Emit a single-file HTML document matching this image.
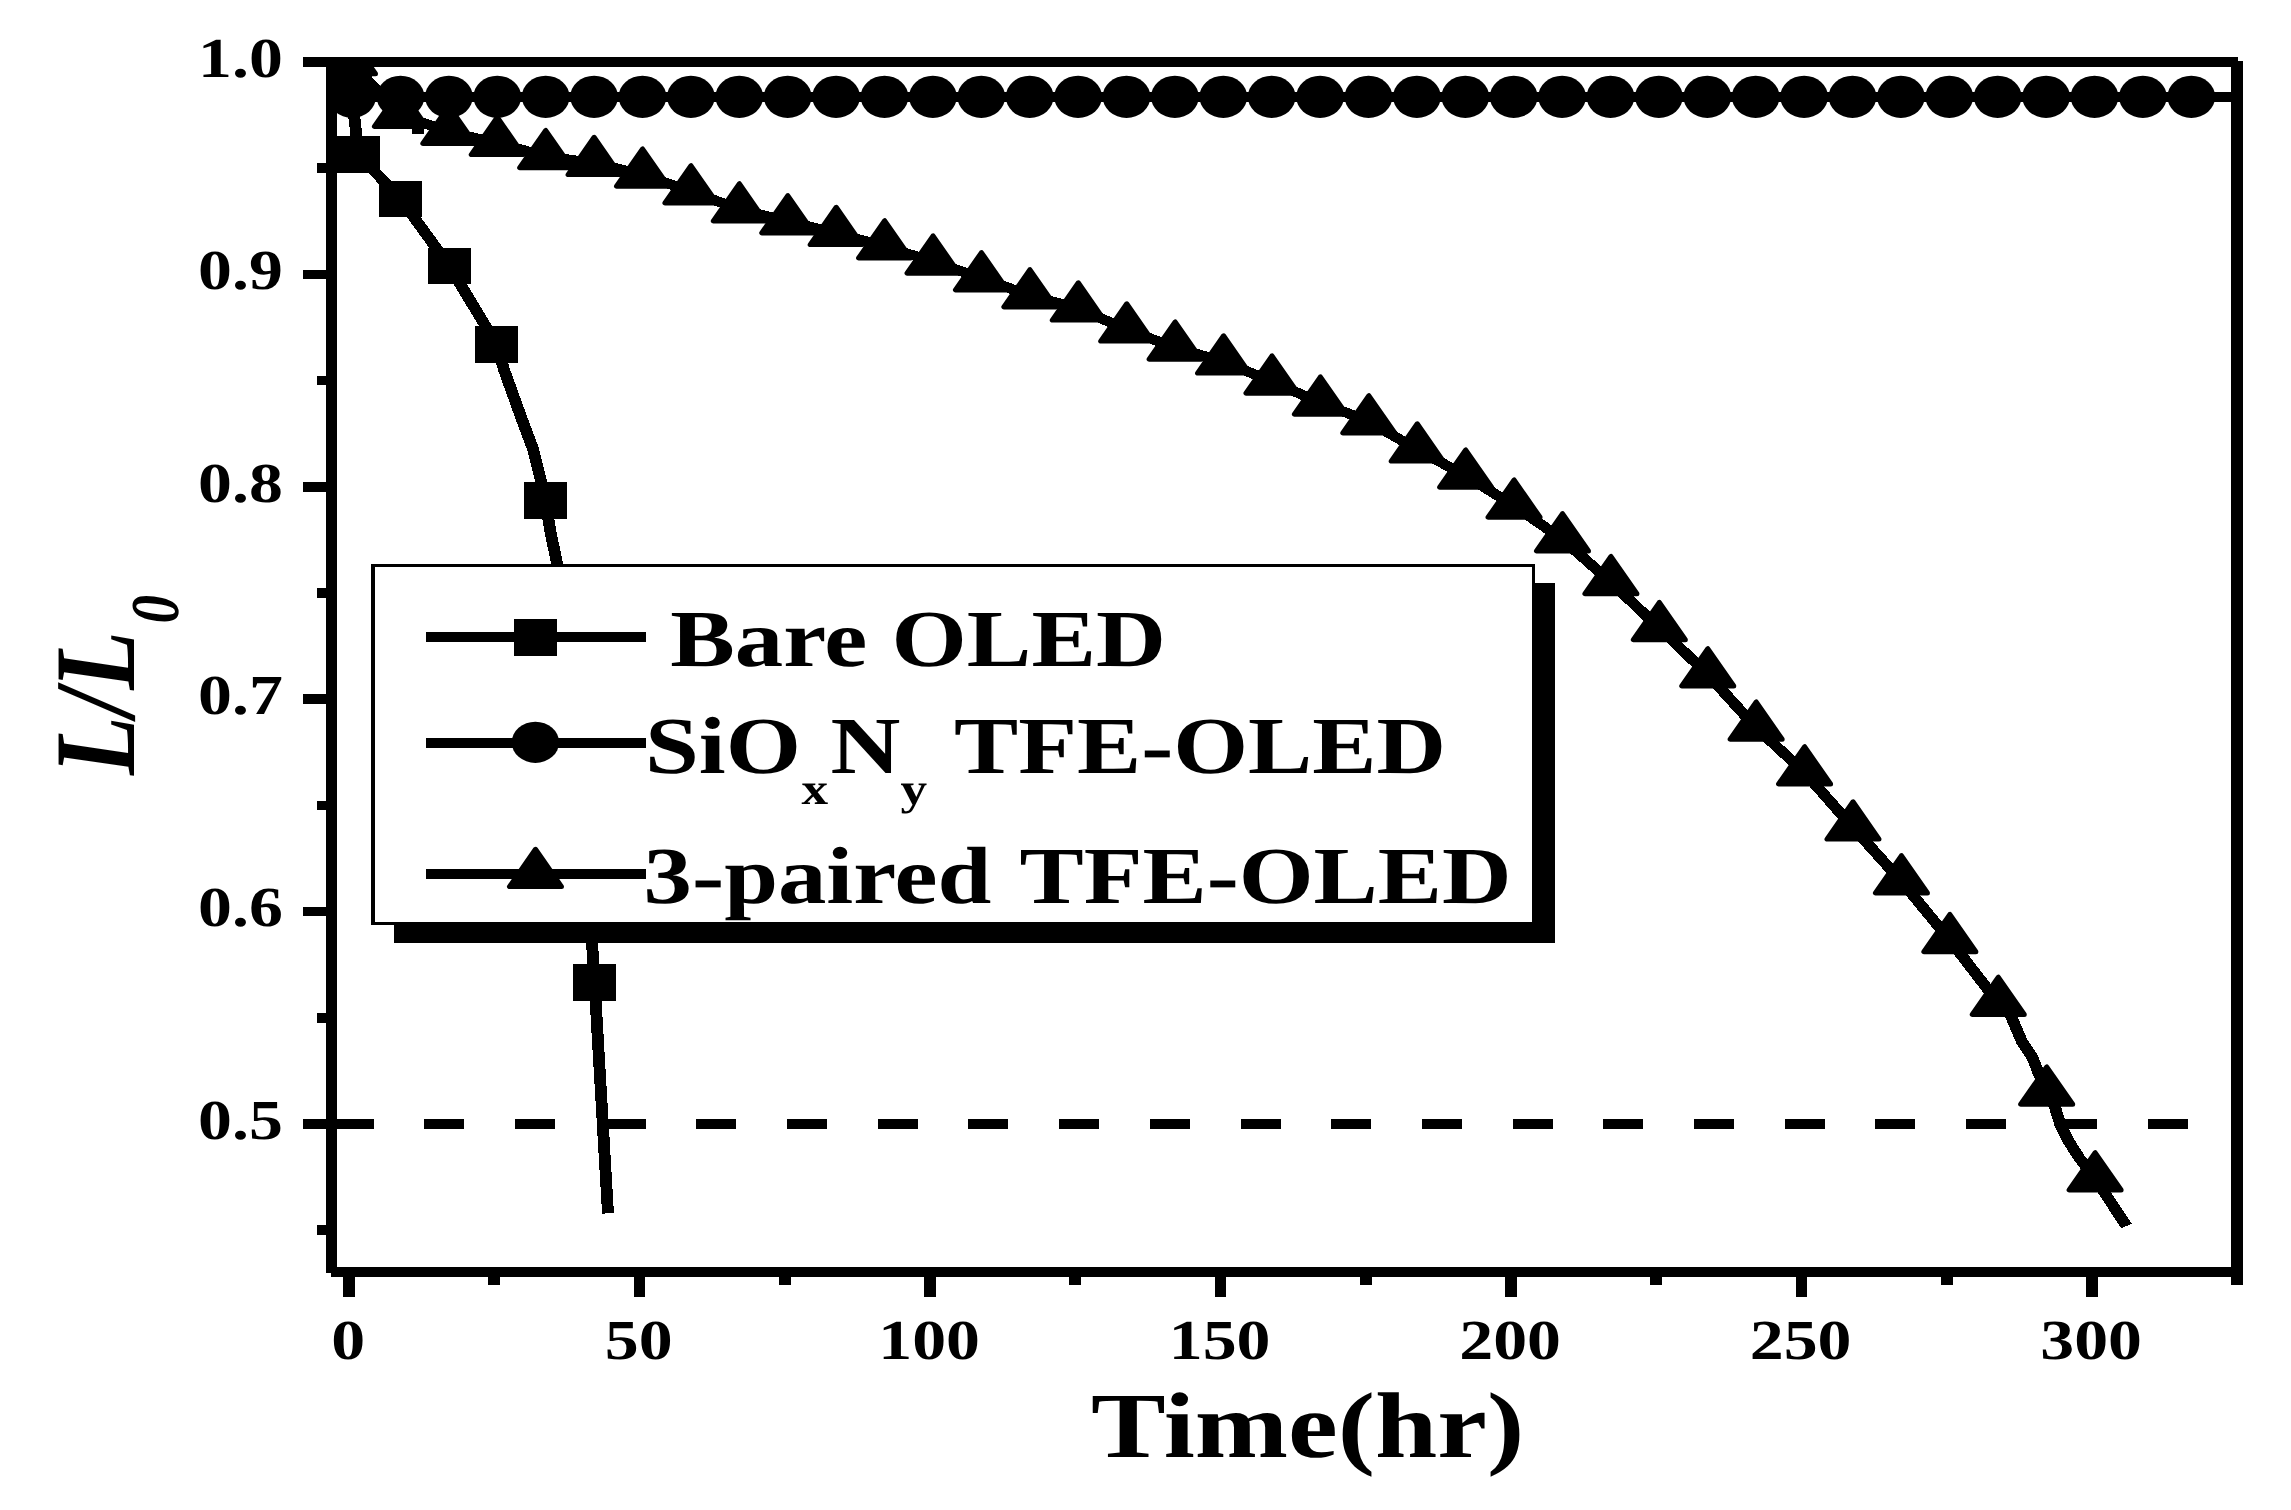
<!DOCTYPE html>
<html lang="en"><head><meta charset="utf-8"><title>L/L0 vs Time(hr)</title>
<style>
html,body{margin:0;padding:0;background:#fff;}
body{width:2291px;height:1510px;overflow:hidden;}
svg{display:block;}
text{font-family:"Liberation Serif","Times New Roman",serif;font-weight:bold;fill:#000;}
</style></head><body>
<svg width="2291" height="1510" viewBox="0 0 2291 1510" shape-rendering="crispEdges" text-rendering="geometricPrecision">
<rect x="0" y="0" width="2291" height="1510" fill="#fff"/>
<defs><clipPath id="frame"><rect x="326" y="57" width="1917" height="1220"/></clipPath></defs>

<g id="half-line">
<rect x="333.50" y="1119.10" width="40.00" height="9.80" fill="#000"/>
<rect x="424.20" y="1119.10" width="40.00" height="9.80" fill="#000"/>
<rect x="514.90" y="1119.10" width="40.00" height="9.80" fill="#000"/>
<rect x="605.60" y="1119.10" width="40.00" height="9.80" fill="#000"/>
<rect x="696.30" y="1119.10" width="40.00" height="9.80" fill="#000"/>
<rect x="787.00" y="1119.10" width="40.00" height="9.80" fill="#000"/>
<rect x="877.70" y="1119.10" width="40.00" height="9.80" fill="#000"/>
<rect x="968.40" y="1119.10" width="40.00" height="9.80" fill="#000"/>
<rect x="1059.10" y="1119.10" width="40.00" height="9.80" fill="#000"/>
<rect x="1149.80" y="1119.10" width="40.00" height="9.80" fill="#000"/>
<rect x="1240.50" y="1119.10" width="40.00" height="9.80" fill="#000"/>
<rect x="1331.20" y="1119.10" width="40.00" height="9.80" fill="#000"/>
<rect x="1421.90" y="1119.10" width="40.00" height="9.80" fill="#000"/>
<rect x="1512.60" y="1119.10" width="40.00" height="9.80" fill="#000"/>
<rect x="1603.30" y="1119.10" width="40.00" height="9.80" fill="#000"/>
<rect x="1694.00" y="1119.10" width="40.00" height="9.80" fill="#000"/>
<rect x="1784.70" y="1119.10" width="40.00" height="9.80" fill="#000"/>
<rect x="1875.40" y="1119.10" width="40.00" height="9.80" fill="#000"/>
<rect x="1966.10" y="1119.10" width="40.00" height="9.80" fill="#000"/>
<rect x="2056.80" y="1119.10" width="40.00" height="9.80" fill="#000"/>
<rect x="2147.50" y="1119.10" width="40.00" height="9.80" fill="#000"/>
</g>
<g id="series" clip-path="url(#frame)">
<rect x="352.00" y="91.95" width="1880.00" height="9.70" fill="#000"/>
<g transform="scale(1.2,1)" fill="none" stroke="#000" stroke-width="9.9" stroke-linejoin="round" stroke-linecap="butt">
<polyline points="295.83,60.00 295.33,118.00 297.08,136.00 298.75,154.50 333.67,198.80 374.50,266.10 413.83,344.40 420.00,369.70 434.33,417.40 444.25,449.20 449.75,475.70 454.67,500.50 458.58,531.30 464.17,563.00 479.17,760.00 493.75,950.00 495.33,982.40 496.33,1000.60 506.67,1213.40"/>
<polyline points="291.25,62.20 333.68,114.90 374.03,131.90 414.38,143.00 454.73,156.20 495.08,163.00 535.43,174.70 575.78,191.40 616.13,209.40 656.48,221.30 696.83,233.00 737.18,246.40 777.53,261.60 817.88,278.30 858.23,295.30 898.58,308.50 938.93,329.50 979.28,347.70 1019.63,361.50 1059.98,381.60 1100.33,402.60 1140.68,421.40 1181.03,449.50 1221.38,475.70 1261.73,505.70 1302.08,539.30 1342.43,582.20 1382.78,628.10 1423.13,674.40 1463.48,727.70 1503.83,772.40 1544.18,827.50 1584.53,881.30 1624.88,940.10 1665.23,1002.90 1676.08,1016.60 1684.92,1041.70 1693.75,1057.60 1698.08,1070.90 1705.58,1092.70 1712.08,1105.50 1717.00,1124.90 1723.42,1140.40 1733.08,1158.50 1745.93,1178.40 1772.08,1226.00"/>
</g>
<rect x="412.00" y="126.00" width="12.00" height="7.80" fill="#000"/>
<rect x="336.00" y="66.00" width="36.00" height="18.00" fill="#000"/>
<polygon points="349.50,36.50 323.50,73.80 375.50,73.80" fill="#000" stroke="#000" stroke-width="5.0" stroke-linejoin="round" shape-rendering="geometricPrecision"/>
<polygon points="400.42,89.20 374.42,126.50 426.42,126.50" fill="#000" stroke="#000" stroke-width="5.0" stroke-linejoin="round" shape-rendering="geometricPrecision"/>
<polygon points="448.84,106.20 422.84,143.50 474.84,143.50" fill="#000" stroke="#000" stroke-width="5.0" stroke-linejoin="round" shape-rendering="geometricPrecision"/>
<polygon points="497.26,117.30 471.26,154.60 523.26,154.60" fill="#000" stroke="#000" stroke-width="5.0" stroke-linejoin="round" shape-rendering="geometricPrecision"/>
<polygon points="545.68,130.50 519.68,167.80 571.68,167.80" fill="#000" stroke="#000" stroke-width="5.0" stroke-linejoin="round" shape-rendering="geometricPrecision"/>
<polygon points="594.10,137.30 568.10,174.60 620.10,174.60" fill="#000" stroke="#000" stroke-width="5.0" stroke-linejoin="round" shape-rendering="geometricPrecision"/>
<polygon points="642.52,149.00 616.52,186.30 668.52,186.30" fill="#000" stroke="#000" stroke-width="5.0" stroke-linejoin="round" shape-rendering="geometricPrecision"/>
<polygon points="690.94,165.70 664.94,203.00 716.94,203.00" fill="#000" stroke="#000" stroke-width="5.0" stroke-linejoin="round" shape-rendering="geometricPrecision"/>
<polygon points="739.36,183.70 713.36,221.00 765.36,221.00" fill="#000" stroke="#000" stroke-width="5.0" stroke-linejoin="round" shape-rendering="geometricPrecision"/>
<polygon points="787.78,195.60 761.78,232.90 813.78,232.90" fill="#000" stroke="#000" stroke-width="5.0" stroke-linejoin="round" shape-rendering="geometricPrecision"/>
<polygon points="836.20,207.30 810.20,244.60 862.20,244.60" fill="#000" stroke="#000" stroke-width="5.0" stroke-linejoin="round" shape-rendering="geometricPrecision"/>
<polygon points="884.62,220.70 858.62,258.00 910.62,258.00" fill="#000" stroke="#000" stroke-width="5.0" stroke-linejoin="round" shape-rendering="geometricPrecision"/>
<polygon points="933.04,235.90 907.04,273.20 959.04,273.20" fill="#000" stroke="#000" stroke-width="5.0" stroke-linejoin="round" shape-rendering="geometricPrecision"/>
<polygon points="981.46,252.60 955.46,289.90 1007.46,289.90" fill="#000" stroke="#000" stroke-width="5.0" stroke-linejoin="round" shape-rendering="geometricPrecision"/>
<polygon points="1029.88,269.60 1003.88,306.90 1055.88,306.90" fill="#000" stroke="#000" stroke-width="5.0" stroke-linejoin="round" shape-rendering="geometricPrecision"/>
<polygon points="1078.30,282.80 1052.30,320.10 1104.30,320.10" fill="#000" stroke="#000" stroke-width="5.0" stroke-linejoin="round" shape-rendering="geometricPrecision"/>
<polygon points="1126.72,303.80 1100.72,341.10 1152.72,341.10" fill="#000" stroke="#000" stroke-width="5.0" stroke-linejoin="round" shape-rendering="geometricPrecision"/>
<polygon points="1175.14,322.00 1149.14,359.30 1201.14,359.30" fill="#000" stroke="#000" stroke-width="5.0" stroke-linejoin="round" shape-rendering="geometricPrecision"/>
<polygon points="1223.56,335.80 1197.56,373.10 1249.56,373.10" fill="#000" stroke="#000" stroke-width="5.0" stroke-linejoin="round" shape-rendering="geometricPrecision"/>
<polygon points="1271.98,355.90 1245.98,393.20 1297.98,393.20" fill="#000" stroke="#000" stroke-width="5.0" stroke-linejoin="round" shape-rendering="geometricPrecision"/>
<polygon points="1320.40,376.90 1294.40,414.20 1346.40,414.20" fill="#000" stroke="#000" stroke-width="5.0" stroke-linejoin="round" shape-rendering="geometricPrecision"/>
<polygon points="1368.82,395.70 1342.82,433.00 1394.82,433.00" fill="#000" stroke="#000" stroke-width="5.0" stroke-linejoin="round" shape-rendering="geometricPrecision"/>
<polygon points="1417.24,423.80 1391.24,461.10 1443.24,461.10" fill="#000" stroke="#000" stroke-width="5.0" stroke-linejoin="round" shape-rendering="geometricPrecision"/>
<polygon points="1465.66,450.00 1439.66,487.30 1491.66,487.30" fill="#000" stroke="#000" stroke-width="5.0" stroke-linejoin="round" shape-rendering="geometricPrecision"/>
<polygon points="1514.08,480.00 1488.08,517.30 1540.08,517.30" fill="#000" stroke="#000" stroke-width="5.0" stroke-linejoin="round" shape-rendering="geometricPrecision"/>
<polygon points="1562.50,513.60 1536.50,550.90 1588.50,550.90" fill="#000" stroke="#000" stroke-width="5.0" stroke-linejoin="round" shape-rendering="geometricPrecision"/>
<polygon points="1610.92,556.50 1584.92,593.80 1636.92,593.80" fill="#000" stroke="#000" stroke-width="5.0" stroke-linejoin="round" shape-rendering="geometricPrecision"/>
<polygon points="1659.34,602.40 1633.34,639.70 1685.34,639.70" fill="#000" stroke="#000" stroke-width="5.0" stroke-linejoin="round" shape-rendering="geometricPrecision"/>
<polygon points="1707.76,648.70 1681.76,686.00 1733.76,686.00" fill="#000" stroke="#000" stroke-width="5.0" stroke-linejoin="round" shape-rendering="geometricPrecision"/>
<polygon points="1756.18,702.00 1730.18,739.30 1782.18,739.30" fill="#000" stroke="#000" stroke-width="5.0" stroke-linejoin="round" shape-rendering="geometricPrecision"/>
<polygon points="1804.60,746.70 1778.60,784.00 1830.60,784.00" fill="#000" stroke="#000" stroke-width="5.0" stroke-linejoin="round" shape-rendering="geometricPrecision"/>
<polygon points="1853.02,801.80 1827.02,839.10 1879.02,839.10" fill="#000" stroke="#000" stroke-width="5.0" stroke-linejoin="round" shape-rendering="geometricPrecision"/>
<polygon points="1901.44,855.60 1875.44,892.90 1927.44,892.90" fill="#000" stroke="#000" stroke-width="5.0" stroke-linejoin="round" shape-rendering="geometricPrecision"/>
<polygon points="1949.86,914.40 1923.86,951.70 1975.86,951.70" fill="#000" stroke="#000" stroke-width="5.0" stroke-linejoin="round" shape-rendering="geometricPrecision"/>
<polygon points="1998.28,977.20 1972.28,1014.50 2024.28,1014.50" fill="#000" stroke="#000" stroke-width="5.0" stroke-linejoin="round" shape-rendering="geometricPrecision"/>
<polygon points="2046.70,1067.00 2020.70,1104.30 2072.70,1104.30" fill="#000" stroke="#000" stroke-width="5.0" stroke-linejoin="round" shape-rendering="geometricPrecision"/>
<polygon points="2095.12,1152.70 2069.12,1190.00 2121.12,1190.00" fill="#000" stroke="#000" stroke-width="5.0" stroke-linejoin="round" shape-rendering="geometricPrecision"/>
<ellipse cx="352.10" cy="96.80" rx="23.9" ry="21.1" fill="#000" shape-rendering="geometricPrecision"/>
<ellipse cx="400.50" cy="96.80" rx="23.9" ry="21.1" fill="#000" shape-rendering="geometricPrecision"/>
<ellipse cx="448.90" cy="96.80" rx="23.9" ry="21.1" fill="#000" shape-rendering="geometricPrecision"/>
<ellipse cx="497.30" cy="96.80" rx="23.9" ry="21.1" fill="#000" shape-rendering="geometricPrecision"/>
<ellipse cx="545.70" cy="96.80" rx="23.9" ry="21.1" fill="#000" shape-rendering="geometricPrecision"/>
<ellipse cx="594.10" cy="96.80" rx="23.9" ry="21.1" fill="#000" shape-rendering="geometricPrecision"/>
<ellipse cx="642.50" cy="96.80" rx="23.9" ry="21.1" fill="#000" shape-rendering="geometricPrecision"/>
<ellipse cx="690.90" cy="96.80" rx="23.9" ry="21.1" fill="#000" shape-rendering="geometricPrecision"/>
<ellipse cx="739.30" cy="96.80" rx="23.9" ry="21.1" fill="#000" shape-rendering="geometricPrecision"/>
<ellipse cx="787.70" cy="96.80" rx="23.9" ry="21.1" fill="#000" shape-rendering="geometricPrecision"/>
<ellipse cx="836.10" cy="96.80" rx="23.9" ry="21.1" fill="#000" shape-rendering="geometricPrecision"/>
<ellipse cx="884.50" cy="96.80" rx="23.9" ry="21.1" fill="#000" shape-rendering="geometricPrecision"/>
<ellipse cx="932.90" cy="96.80" rx="23.9" ry="21.1" fill="#000" shape-rendering="geometricPrecision"/>
<ellipse cx="981.30" cy="96.80" rx="23.9" ry="21.1" fill="#000" shape-rendering="geometricPrecision"/>
<ellipse cx="1029.70" cy="96.80" rx="23.9" ry="21.1" fill="#000" shape-rendering="geometricPrecision"/>
<ellipse cx="1078.10" cy="96.80" rx="23.9" ry="21.1" fill="#000" shape-rendering="geometricPrecision"/>
<ellipse cx="1126.50" cy="96.80" rx="23.9" ry="21.1" fill="#000" shape-rendering="geometricPrecision"/>
<ellipse cx="1174.90" cy="96.80" rx="23.9" ry="21.1" fill="#000" shape-rendering="geometricPrecision"/>
<ellipse cx="1223.30" cy="96.80" rx="23.9" ry="21.1" fill="#000" shape-rendering="geometricPrecision"/>
<ellipse cx="1271.70" cy="96.80" rx="23.9" ry="21.1" fill="#000" shape-rendering="geometricPrecision"/>
<ellipse cx="1320.10" cy="96.80" rx="23.9" ry="21.1" fill="#000" shape-rendering="geometricPrecision"/>
<ellipse cx="1368.50" cy="96.80" rx="23.9" ry="21.1" fill="#000" shape-rendering="geometricPrecision"/>
<ellipse cx="1416.90" cy="96.80" rx="23.9" ry="21.1" fill="#000" shape-rendering="geometricPrecision"/>
<ellipse cx="1465.30" cy="96.80" rx="23.9" ry="21.1" fill="#000" shape-rendering="geometricPrecision"/>
<ellipse cx="1513.70" cy="96.80" rx="23.9" ry="21.1" fill="#000" shape-rendering="geometricPrecision"/>
<ellipse cx="1562.10" cy="96.80" rx="23.9" ry="21.1" fill="#000" shape-rendering="geometricPrecision"/>
<ellipse cx="1610.50" cy="96.80" rx="23.9" ry="21.1" fill="#000" shape-rendering="geometricPrecision"/>
<ellipse cx="1658.90" cy="96.80" rx="23.9" ry="21.1" fill="#000" shape-rendering="geometricPrecision"/>
<ellipse cx="1707.30" cy="96.80" rx="23.9" ry="21.1" fill="#000" shape-rendering="geometricPrecision"/>
<ellipse cx="1755.70" cy="96.80" rx="23.9" ry="21.1" fill="#000" shape-rendering="geometricPrecision"/>
<ellipse cx="1804.10" cy="96.80" rx="23.9" ry="21.1" fill="#000" shape-rendering="geometricPrecision"/>
<ellipse cx="1852.50" cy="96.80" rx="23.9" ry="21.1" fill="#000" shape-rendering="geometricPrecision"/>
<ellipse cx="1900.90" cy="96.80" rx="23.9" ry="21.1" fill="#000" shape-rendering="geometricPrecision"/>
<ellipse cx="1949.30" cy="96.80" rx="23.9" ry="21.1" fill="#000" shape-rendering="geometricPrecision"/>
<ellipse cx="1997.70" cy="96.80" rx="23.9" ry="21.1" fill="#000" shape-rendering="geometricPrecision"/>
<ellipse cx="2046.10" cy="96.80" rx="23.9" ry="21.1" fill="#000" shape-rendering="geometricPrecision"/>
<ellipse cx="2094.50" cy="96.80" rx="23.9" ry="21.1" fill="#000" shape-rendering="geometricPrecision"/>
<ellipse cx="2142.90" cy="96.80" rx="23.9" ry="21.1" fill="#000" shape-rendering="geometricPrecision"/>
<ellipse cx="2191.30" cy="96.80" rx="23.9" ry="21.1" fill="#000" shape-rendering="geometricPrecision"/>
<rect x="337.00" y="136.20" width="43.00" height="36.60" fill="#000"/>
<rect x="378.90" y="180.50" width="43.00" height="36.60" fill="#000"/>
<rect x="427.90" y="247.80" width="43.00" height="36.60" fill="#000"/>
<rect x="475.10" y="326.10" width="43.00" height="36.60" fill="#000"/>
<rect x="524.10" y="482.20" width="43.00" height="36.60" fill="#000"/>
<rect x="572.90" y="964.10" width="43.00" height="36.60" fill="#000"/>
</g>
<g id="axes">
<rect x="303.00" y="57.00" width="1935.00" height="9.80" fill="#000"/>
<rect x="326.00" y="57.00" width="10.80" height="1215.60" fill="#000"/>
<rect x="331.40" y="1267.40" width="1911.60" height="9.50" fill="#000"/>
<rect x="2231.20" y="61.00" width="11.80" height="1223.60" fill="#000"/>
<rect x="303.00" y="57.20" width="24.00" height="9.60" fill="#000"/>
<rect x="303.00" y="269.60" width="24.00" height="9.60" fill="#000"/>
<rect x="303.00" y="482.00" width="24.00" height="9.60" fill="#000"/>
<rect x="303.00" y="694.40" width="24.00" height="9.60" fill="#000"/>
<rect x="303.00" y="906.80" width="24.00" height="9.60" fill="#000"/>
<rect x="303.00" y="1119.20" width="24.00" height="9.60" fill="#000"/>
<rect x="317.00" y="163.40" width="10.00" height="9.60" fill="#000"/>
<rect x="317.00" y="375.80" width="10.00" height="9.60" fill="#000"/>
<rect x="317.00" y="588.20" width="10.00" height="9.60" fill="#000"/>
<rect x="317.00" y="800.60" width="10.00" height="9.60" fill="#000"/>
<rect x="317.00" y="1013.00" width="10.00" height="9.60" fill="#000"/>
<rect x="317.00" y="1225.40" width="10.00" height="9.60" fill="#000"/>
<rect x="343.25" y="1276.00" width="11.70" height="20.70" fill="#000"/>
<rect x="633.74" y="1276.00" width="11.70" height="20.70" fill="#000"/>
<rect x="924.22" y="1276.00" width="11.70" height="20.70" fill="#000"/>
<rect x="1214.71" y="1276.00" width="11.70" height="20.70" fill="#000"/>
<rect x="1505.19" y="1276.00" width="11.70" height="20.70" fill="#000"/>
<rect x="1795.68" y="1276.00" width="11.70" height="20.70" fill="#000"/>
<rect x="2086.16" y="1276.00" width="11.70" height="20.70" fill="#000"/>
<rect x="488.49" y="1276.00" width="11.70" height="8.70" fill="#000"/>
<rect x="778.98" y="1276.00" width="11.70" height="8.70" fill="#000"/>
<rect x="1069.46" y="1276.00" width="11.70" height="8.70" fill="#000"/>
<rect x="1359.95" y="1276.00" width="11.70" height="8.70" fill="#000"/>
<rect x="1650.43" y="1276.00" width="11.70" height="8.70" fill="#000"/>
<rect x="1940.92" y="1276.00" width="11.70" height="8.70" fill="#000"/>
</g>
<g id="tick-labels" font-size="56.5">
<text transform="translate(282.8,76.80) scale(1.2,1)" text-anchor="end">1.0</text>
<text transform="translate(282.8,289.20) scale(1.2,1)" text-anchor="end">0.9</text>
<text transform="translate(282.8,501.60) scale(1.2,1)" text-anchor="end">0.8</text>
<text transform="translate(282.8,714.00) scale(1.2,1)" text-anchor="end">0.7</text>
<text transform="translate(282.8,926.40) scale(1.2,1)" text-anchor="end">0.6</text>
<text transform="translate(282.8,1138.80) scale(1.2,1)" text-anchor="end">0.5</text>
<text transform="translate(348.20,1359) scale(1.2,1)" text-anchor="middle">0</text>
<text transform="translate(638.69,1359) scale(1.2,1)" text-anchor="middle">50</text>
<text transform="translate(929.17,1359) scale(1.2,1)" text-anchor="middle">100</text>
<text transform="translate(1219.65,1359) scale(1.2,1)" text-anchor="middle">150</text>
<text transform="translate(1510.14,1359) scale(1.2,1)" text-anchor="middle">200</text>
<text transform="translate(1800.62,1359) scale(1.2,1)" text-anchor="middle">250</text>
<text transform="translate(2091.11,1359) scale(1.2,1)" text-anchor="middle">300</text>
</g>
<g id="axis-titles">
<text transform="translate(1307.7,1456.8) scale(1.2,1)" text-anchor="middle" font-size="93.3">Time(hr)</text>
<text transform="translate(134,775) scale(1.2,1) rotate(-90)" font-size="96" font-style="italic">L/L<tspan font-size="57" dx="7.5" dy="37">0</tspan></text>
</g>
<g id="legend">
<rect x="394.00" y="583.00" width="1161.00" height="360.30" fill="#000"/>
<rect x="371.00" y="564.00" width="1164.00" height="361.00" fill="#000"/>
<rect x="374.50" y="567.40" width="1157.10" height="354.20" fill="#fff"/>
<rect x="426.00" y="631.80" width="219.80" height="10.40" fill="#000"/>
<rect x="426.00" y="737.50" width="219.80" height="10.40" fill="#000"/>
<rect x="426.00" y="868.80" width="219.80" height="10.40" fill="#000"/>
<rect x="514.20" y="619.00" width="42.80" height="37.00" fill="#000"/>
<ellipse cx="535.4" cy="742.3" rx="23.7" ry="20.6" fill="#000" shape-rendering="geometricPrecision"/>
<polygon points="535.50,849.30 509.50,886.60 561.50,886.60" fill="#000" stroke="#000" stroke-width="5.0" stroke-linejoin="round" shape-rendering="geometricPrecision"/>
<text transform="translate(670.20,665.90) scale(1.195,1)" font-size="81.0" xml:space="preserve">Bare OLED</text>
<text transform="translate(645.00,772.60) scale(1.195,1)" font-size="81.0" xml:space="preserve">SiO</text>
<text transform="translate(801.50,804.20) scale(1.195,1)" font-size="44.5" xml:space="preserve">x</text>
<text transform="translate(830.50,772.60) scale(1.195,1)" font-size="81.0" xml:space="preserve">N</text>
<text transform="translate(900.50,804.20) scale(1.195,1)" font-size="44.5" xml:space="preserve">y</text>
<text transform="translate(954.00,772.60) scale(1.188,1)" font-size="81.0" xml:space="preserve">TFE-OLED</text>
<text transform="translate(643.50,903.40) scale(1.195,1)" font-size="81.0" xml:space="preserve">3-paired</text>
<text transform="translate(1019.50,903.40) scale(1.188,1)" font-size="81.0" xml:space="preserve">TFE-OLED</text>
</g>
</g>
</svg>
</body></html>
